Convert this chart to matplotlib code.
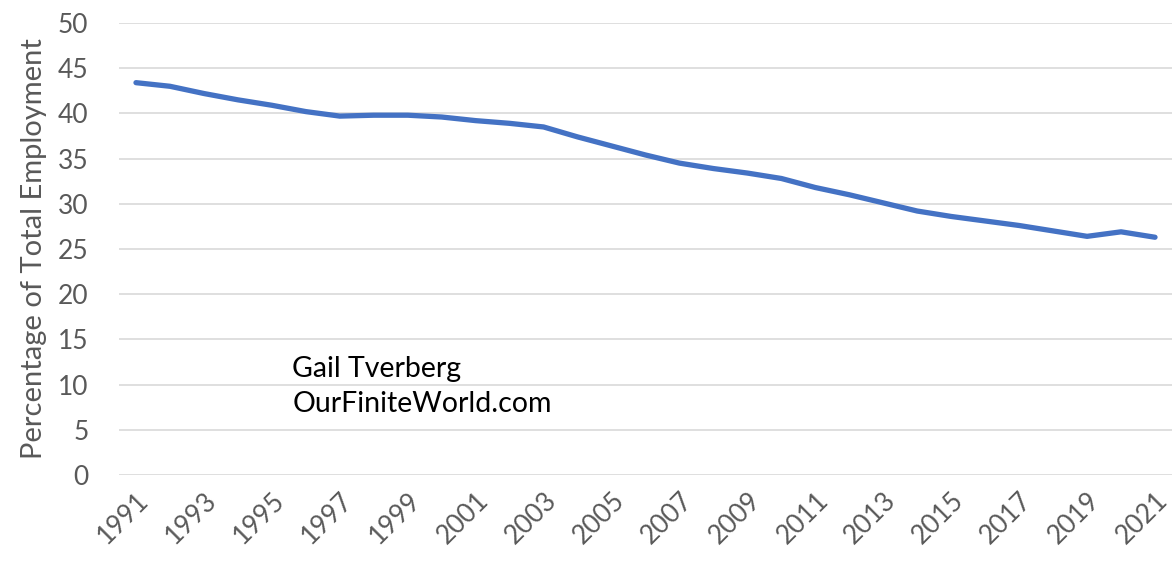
import matplotlib
matplotlib.use("Agg")
import matplotlib.pyplot as plt

years = list(range(1991, 2022))
share = [43.4, 43.0, 42.2, 41.5, 40.9, 40.2, 39.7, 39.8, 39.8, 39.6,
         39.2, 38.9, 38.5, 37.4, 36.4, 35.4, 34.5, 33.9, 33.4, 32.8,
         31.8, 31.0, 30.1, 29.2, 28.6, 28.1, 27.6, 27.0, 26.4, 26.9,
         26.3]
tick_years = years[::2]
y_ticks = list(range(0, 51, 5))

plt.rcParams['font.family'] = ['Lato', 'DejaVu Sans']

fig = plt.figure(figsize=(11.72, 5.65), dpi=100)
ax = fig.add_axes([119 / 1172, 1 - 475 / 565, 1 - 119 / 1172, 452 / 565])

x = list(range(len(years)))
ax.plot(x, share, color='#4472C4', linewidth=3.8, solid_capstyle='round', zorder=3)

ax.set_xlim(-0.5, len(years) - 0.5)
ax.set_ylim(0, 50)
ax.set_yticks(y_ticks)
ax.set_xticks([years.index(t) for t in tick_years])
ax.set_xticklabels([str(t) for t in tick_years], rotation=45, ha='right',
                   rotation_mode='anchor')
ax.tick_params(axis='both', length=0, colors='#595959', labelsize=19)
ax.tick_params(axis='x', pad=9)
ax.tick_params(axis='y', pad=22)
ax.grid(axis='y', color='#d9d9d9', linewidth=1.2)
ax.set_axisbelow(True)
for s in ax.spines.values():
    s.set_visible(False)

ax.set_ylabel('Percentage of Total Employment', fontsize=21, color='#595959', labelpad=8)

ax.text(years.index(1996) - 0.4, 9.8, 'Gail Tverberg\nOurFiniteWorld.com',
        fontsize=20.5, color='#000000', linespacing=1.4, va='center')

fig.savefig('out.png', dpi=100)
